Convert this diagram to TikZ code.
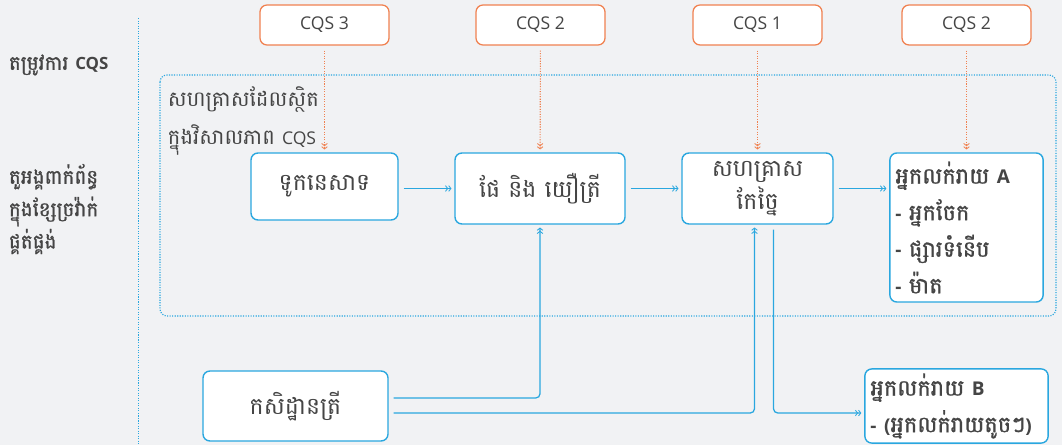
\documentclass[tikz,border=0pt]{standalone}
\usepackage{fontspec}
\setmainfont{Open Sans}
\newfontfamily\kh[Script=Khmer]{Battambang}
\newfontfamily\khm[Script=Khmer,FakeBold=1.1]{Battambang}
\usetikzlibrary{arrows.meta}
\definecolor{bgray}{HTML}{F1F2F4}
\definecolor{lineblue}{HTML}{2AA7DF}
\definecolor{cqsorange}{HTML}{F08150}
\definecolor{txtgray}{HTML}{454545}
\newcommand{\lat}[1]{{\normalfont\fontsize{12.5}{14}\selectfont #1}}
\newcommand{\latb}[1]{{\normalfont\bfseries\fontsize{13.5}{14}\selectfont #1}}
\begin{document}
\begin{tikzpicture}[x=0.025cm,y=-0.025cm,
    cqsbox/.style={draw=cqsorange,line width=0.9pt,fill=white,rounded corners=5pt,
      minimum width=3.225cm,minimum height=1cm,text=txtgray,font=\fontsize{12.5}{14}\selectfont},
    chainbox/.style={draw=lineblue,line width=1pt,fill=white,rounded corners=5pt,
      text=txtgray,align=center,font=\kh\fontsize{16.8}{23.5}\selectfont},
    listbox/.style={chainbox,align=left,inner xsep=4pt,font=\khm\fontsize{16}{26}\selectfont},
    flow/.style={lineblue,line width=0.9pt,
      -{Straight Barb[length=1.6pt,width=4pt,line width=0.6pt]Straight Barb[length=1.6pt,width=4pt,line width=0.6pt]},
      shorten <=3.5pt,shorten >=2pt},
    need/.style={cqsorange,line width=0.8pt,densely dotted,
      -{Straight Barb[length=1.6pt,width=4pt,line width=0.6pt]Straight Barb[length=1.6pt,width=4pt,line width=0.6pt]},
      shorten <=3.5pt,shorten >=2pt},
    sidelabel/.style={text=txtgray,align=left,anchor=west,font=\khm\fontsize{14.2}{23}\selectfont}]
  \useasboundingbox[fill=bgray] (0,0) rectangle (1062,445);
  % side labels and divider
  \draw[lineblue,line width=0.8pt,densely dotted] (138.5,18) -- (138.5,445);
  \node[sidelabel] (lblneed) at (4,65) {តម្រូវការ {\normalfont\bfseries\fontsize{12}{14}\selectfont CQS}};
  \node[sidelabel] (lblactor) at (4,209) {តួអង្គពាក់ព័ន្ធ\\ក្នុងខ្សែច្រវ៉ាក់\\ផ្គត់ផ្គង់};
  % scope of CQS
  \draw[lineblue,line width=0.8pt,densely dotted,rounded corners=5pt] (160,75) rectangle (1056,316);
  \node[text=txtgray,align=left,anchor=north west,font=\kh\fontsize{15}{27}\selectfont] (scope) at (163,82)
    {សហគ្រាសដែលស្ថិត\\ក្នុងវិសាលភាព \lat{CQS}};
  % CQS requirements
  \node[cqsbox] (cqsboat) at (324.5,25) {CQS 3};
  \node[cqsbox] (cqsport) at (540.5,25) {CQS 2};
  \node[cqsbox] (cqsproc) at (757.5,25) {CQS 1};
  \node[cqsbox] (cqsretail) at (966.5,25) {CQS 2};
  % supply chain actors
  \node[chainbox,minimum width=3.675cm,minimum height=1.675cm] (boat) at (324.5,186.5) {ទូកនេសាទ};
  \node[chainbox,minimum width=4.25cm,minimum height=1.775cm] (port) at (540,188.5) {ផែ និង យឿត្រី};
  \node[chainbox,minimum width=3.775cm,minimum height=1.775cm] (proc) at (757.5,188.5) {សហគ្រាស\\កែច្នៃ};
  \node[listbox,text width=3.55cm,minimum height=3.725cm] (retailA) at (966.5,227.5)
    {អ្នកលក់រាយ \latb{A}\\\latb{-} អ្នកចែក\\\latb{-} ផ្សារទំនើប\\\latb{-} ម៉ាត};
  \node[chainbox,minimum width=4.625cm,minimum height=1.75cm] (farm) at (295.5,406) {កសិដ្ឋានត្រី};
  \node[listbox,text width=4.3cm,minimum height=1.75cm] (retailB) at (956.5,406)
    {អ្នកលក់រាយ \latb{B}\\\latb{- (}អ្នកលក់រាយតូចៗ\latb{)}};
  % requirement links
  \draw[need] (cqsboat) -- (boat);
  \draw[need] (cqsport) -- (port);
  \draw[need] (cqsproc) -- (proc);
  \draw[need] (cqsretail) -- (retailA);
  % product flow
  \draw[flow] (port.west -| boat.east) -- (port.west);
  \draw[flow] (port) -- (proc);
  \draw[flow] (proc) -- (proc -| retailA.west);
  \draw[flow,rounded corners=3pt] ([yshift=0.2cm]farm.east) -| (port.south);
  \draw[flow,rounded corners=3pt] ([yshift=-0.175cm]farm.east) -| ([xshift=-0.075cm]proc.south);
  \draw[flow,rounded corners=3pt] ([xshift=0.4cm]proc.south) |- ([yshift=-0.175cm]retailB.west);
\end{tikzpicture}
\end{document}
